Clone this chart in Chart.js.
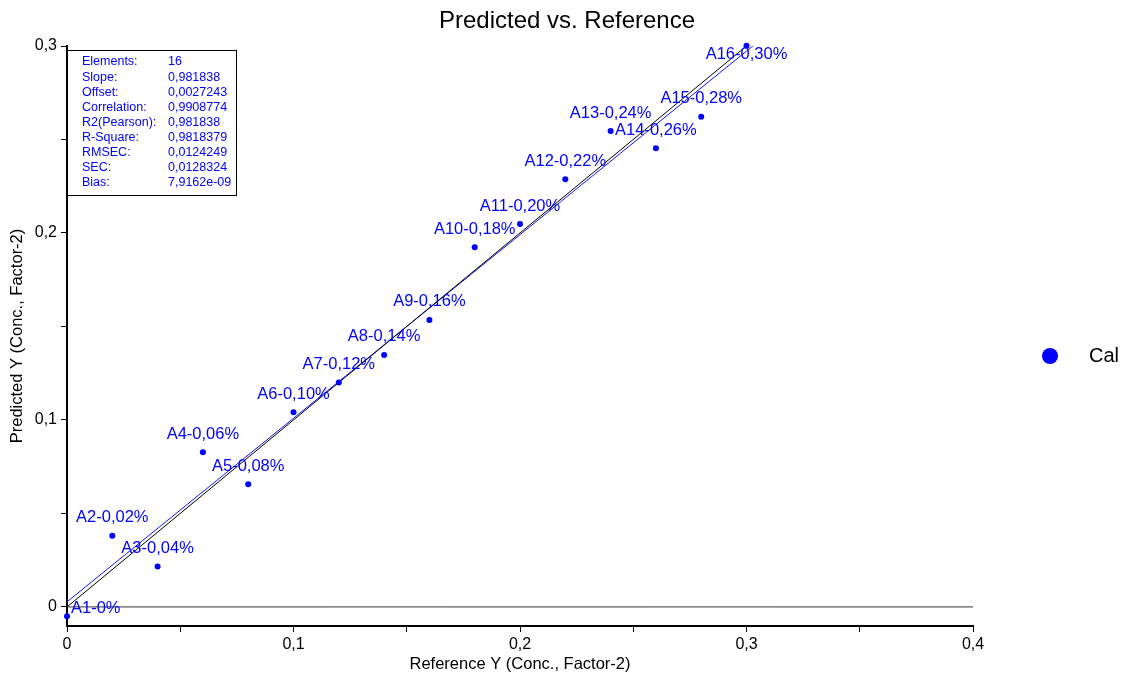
<!DOCTYPE html>
<html><head><meta charset="utf-8">
<script src="https://cdn.jsdelivr.net/npm/chart.js@4"></script>
<style>html,body{margin:0;padding:0;background:#fff}#wrap{width:1121px;height:675px}</style>
</head><body><div id="wrap"><canvas id="c" width="1121" height="675"></canvas></div>
<script>
const pointLabels = ['A1-0%','A2-0,02%','A3-0,04%','A4-0,06%','A5-0,08%','A6-0,10%','A7-0,12%','A8-0,14%','A9-0,16%','A10-0,18%','A11-0,20%','A12-0,22%','A13-0,24%','A14-0,26%','A15-0,28%','A16-0,30%'];
const refX = [0,0.02,0.04,0.06,0.08,0.10,0.12,0.14,0.16,0.18,0.20,0.22,0.24,0.26,0.28,0.30];
const predY = [-0.005,0.0381,0.0216,0.0827,0.0656,0.1041,0.1200,0.1348,0.1535,0.1924,0.2048,0.2287,0.2545,0.2453,0.2622,0.3002];
const fitSlope = 0.981838;
const fitOffset = 0.0027243;
const lineX = [0, 0.4];
const xTicks = [0,0.05,0.1,0.15,0.2,0.25,0.3,0.35,0.4];
const yTicks = [0,0.05,0.1,0.15,0.2,0.25,0.3];
const statNames = ['Elements:','Slope:','Offset:','Correlation:','R2(Pearson):','R-Square:','RMSEC:','SEC:','Bias:'];
const statValues = ['16','0,981838','0,0027243','0,9908774','0,981838','0,9818379','0,0124249','0,0128324','7,9162e-09'];
const seriesName = 'Cal';
const chartTitle = 'Predicted vs. Reference';

const FAM = '"Liberation Sans", Arial, sans-serif';
Chart.defaults.font.family = FAM;
const BLUE = '#0000ff';

function fmt(v){
  if (Math.abs(v*10 - Math.round(v*10)) > 1e-6) return '';
  if (Math.abs(v) < 1e-9) return '0';
  return v.toFixed(1).replace('.', ',');
}

const overlay = {
  id: 'overlay',
  afterDatasetsDraw(chart){
    const ctx = chart.ctx, ca = chart.chartArea;
    const meta = chart.getDatasetMeta(0);
    ctx.save();
    ctx.font = '16.5px ' + FAM;
    ctx.fillStyle = BLUE;
    ctx.textBaseline = 'middle';
    meta.data.forEach((el, i) => {
      const t = pointLabels[i];
      const w = ctx.measureText(t).width;
      if (el.x - w/2 < ca.left) {
        ctx.textAlign = 'left';
        ctx.fillText(t, el.x + 4, el.y - 8);
      } else if (el.y - 18 - 8 < ca.top) {
        ctx.textAlign = 'center';
        ctx.fillText(t, el.x, el.y + 9);
      } else {
        ctx.textAlign = 'center';
        ctx.fillText(t, el.x, el.y - 18);
      }
    });
    ctx.restore();
  },
  afterDraw(chart){
    const ctx = chart.ctx, ca = chart.chartArea;
    ctx.save();
    // title
    ctx.fillStyle = '#000';
    ctx.font = '24px ' + FAM;
    ctx.textAlign = 'center';
    ctx.textBaseline = 'middle';
    ctx.fillText(chartTitle, 567, 21);
    // stats box
    ctx.fillStyle = '#fff';
    ctx.fillRect(ca.left + 0.5, ca.top + 4.5, 169, 145);
    ctx.strokeStyle = '#000';
    ctx.lineWidth = 1;
    ctx.strokeRect(ca.left + 0.5, ca.top + 4.5, 169, 145);
    ctx.font = '12.5px ' + FAM;
    ctx.fillStyle = BLUE;
    ctx.textBaseline = 'middle';
    ctx.textAlign = 'left';
    statNames.forEach((n, i) => {
      const y = ca.top + 16 + i * 15.1;
      ctx.fillText(n, ca.left + 15, y);
      ctx.fillText(statValues[i], ca.left + 101, y);
    });
    // legend
    const ly = 356;
    ctx.beginPath();
    ctx.arc(ca.right + 77, ly, 8, 0, Math.PI * 2);
    ctx.fillStyle = BLUE;
    ctx.fill();
    ctx.fillStyle = '#000';
    ctx.font = '20px ' + FAM;
    ctx.fillText(seriesName, ca.right + 116, ly);
    ctx.restore();
  }
};

new Chart(document.getElementById('c'), {
  type: 'scatter',
  data: {
    datasets: [
      { label: seriesName, data: refX.map((x, i) => ({x, y: predY[i]})), backgroundColor: BLUE, borderColor: BLUE, pointRadius: 3, pointHoverRadius: 3, borderWidth: 0, order: 0, clip: false },
      { label: 'Fit', data: lineX.map(x => ({x, y: fitOffset + fitSlope * x})), showLine: true, borderColor: '#1414ff', borderWidth: 1, pointRadius: 0, order: 2 },
      { label: 'Ideal', data: lineX.map(x => ({x, y: x})), showLine: true, borderColor: '#000', borderWidth: 1, pointRadius: 0, order: 1 },
      { label: 'Zero', data: lineX.map(x => ({x, y: 0})), showLine: true, borderColor: '#333', borderWidth: 1, pointRadius: 0, order: 3 }
    ]
  },
  options: {
    responsive: false,
    animation: false,
    events: [],
    layout: { padding: { left: 0, right: 148, top: 46, bottom: 0 } },
    plugins: {
      legend: { display: false },
      tooltip: { enabled: false },
      title: { display: false }
    },
    scales: {
      x: {
        type: 'linear', min: 0, max: 0.4,
        afterBuildTicks: s => { s.ticks = xTicks.map(v => ({value: v})); },
        afterFit: s => { s.height = 49; },
        ticks: { callback: fmt, color: '#000', font: { size: 16 }, padding: 3, maxRotation: 0, autoSkip: false },
        grid: { display: true, drawOnChartArea: false, drawTicks: true, tickLength: 6, color: '#000' },
        border: { display: true, color: '#000', width: 2 },
        title: { display: true, text: 'Reference Y (Conc., Factor-2)', color: '#000', font: { size: 16.5 }, padding: { top: 2, bottom: 1 } }
      },
      y: {
        type: 'linear', min: -0.0102, max: 0.3,
        afterBuildTicks: s => { s.ticks = yTicks.map(v => ({value: v})); },
        afterFit: s => { s.width = 67; },
        ticks: { callback: fmt, color: '#000', font: { size: 16 }, padding: 4, autoSkip: false },
        grid: { display: true, drawOnChartArea: false, drawTicks: true, tickLength: 6, color: '#000' },
        border: { display: true, color: '#000', width: 2 },
        title: { display: true, text: 'Predicted Y (Conc., Factor-2)', color: '#000', font: { size: 16.5 }, padding: { top: 8, bottom: 2 } }
      }
    }
  },
  plugins: [overlay]
});
</script>
</body></html>
